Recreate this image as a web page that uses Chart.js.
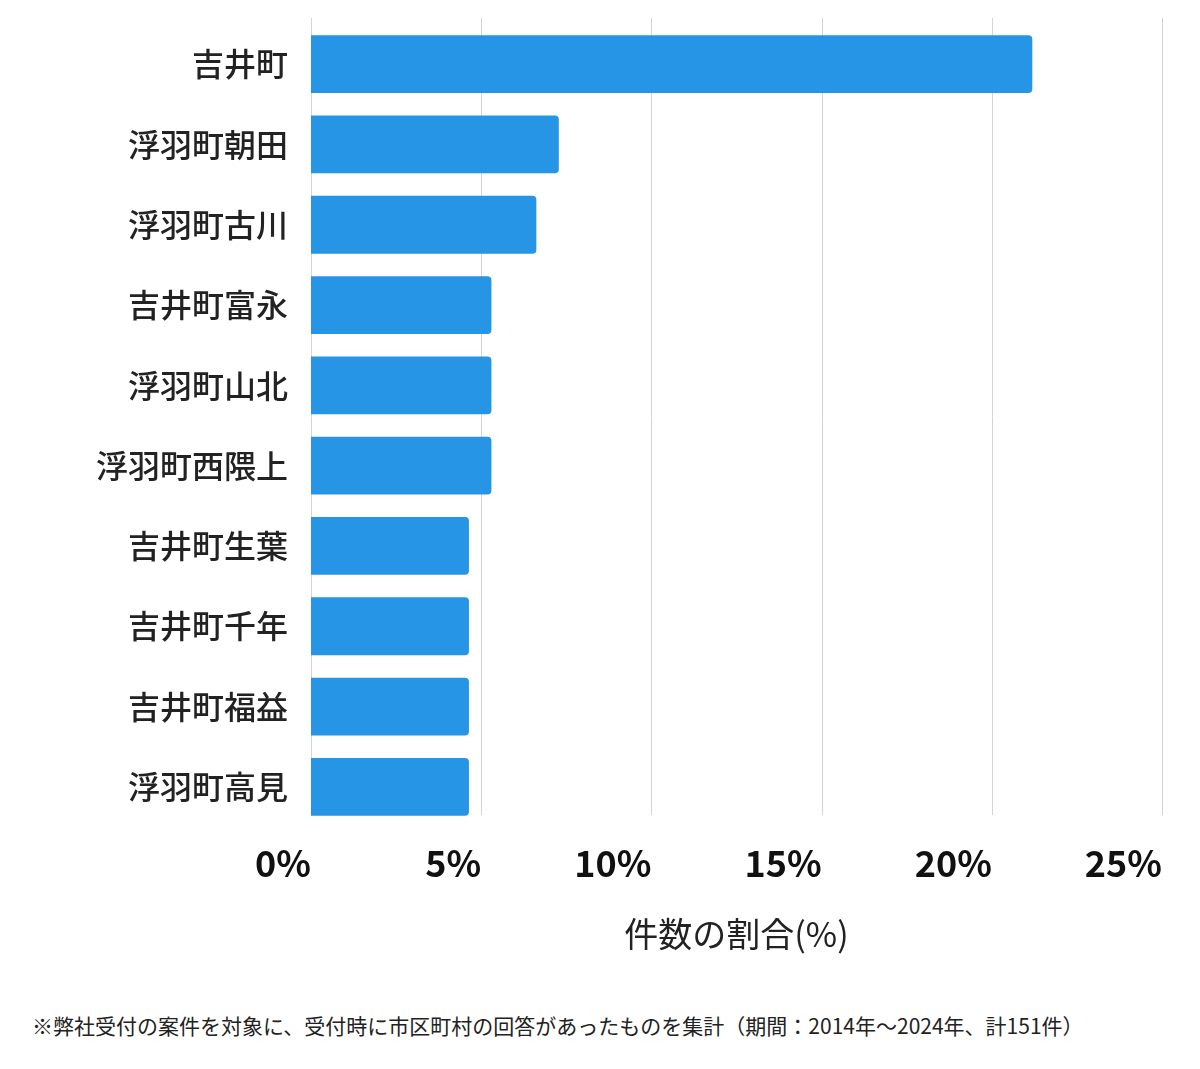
<!DOCTYPE html>
<html><head><meta charset="utf-8">
<script src="https://cdn.jsdelivr.net/npm/chart.js@4"></script>
<style>
html,body{margin:0;padding:0;background:#fff;}
#wrap{position:relative;width:1200px;height:1000px;}
#note{position:absolute;left:32px;top:1010px;font-family:"Noto Sans CJK JP","Noto Sans",sans-serif;font-size:21px;color:#222;white-space:nowrap;line-height:30px;}
</style></head>
<body>
<div id="wrap"><canvas id="c"></canvas></div>
<div id="note">※弊社受付の案件を対象に、受付時に市区町村の回答があったものを集計（期間：2014年～2024年、計151件）</div>
<script>
const categories = ["吉井町","浮羽町朝田","浮羽町古川","吉井町富永","浮羽町山北","浮羽町西隈上","吉井町生葉","吉井町千年","吉井町福益","浮羽町高見"];
const values = [21.19, 7.28, 6.62, 5.30, 5.30, 5.30, 4.64, 4.64, 4.64, 4.64];
const tickValues = [0, 5, 10, 15, 20, 25];
const axisTitle = "件数の割合(%)";
const FONT = '"Noto Sans CJK JP","Noto Sans",sans-serif';

const gridPlugin = {
  id: 'gridLines',
  beforeDatasetsDraw(chart) {
    const { ctx, chartArea, scales: { x } } = chart;
    ctx.save();
    ctx.strokeStyle = '#d4d4d4';
    ctx.lineWidth = 1;
    x.ticks.forEach(t => {
      const px = Math.round(x.getPixelForValue(t.value)) + 0.5;
      ctx.beginPath();
      ctx.moveTo(px, chartArea.top - 6);
      ctx.lineTo(px, chartArea.bottom - 12);
      ctx.stroke();
    });
    ctx.restore();
  }
};

new Chart(document.getElementById('c'), {
  type: 'bar',
  data: { labels: categories, datasets: [{ data: values, backgroundColor: '#2795e5', borderRadius: 4, borderSkipped: 'start' }] },
  options: {
    indexAxis: 'y',
    responsive: true, maintainAspectRatio: false, animation: false,
    layout: { padding: { top: 24, right: 38, left: 0, bottom: 0 } },
    plugins: { legend: { display: false }, tooltip: { enabled: false } },
    scales: {
      x: {
        min: 0, max: 25,
        afterBuildTicks: s => { s.ticks = tickValues.map(v => ({ value: v })); },
        afterFit: s => { s.height = 173; s.paddingLeft = 0; s.paddingRight = 0; },
        grid: { display: false, drawTicks: false },
        border: { display: false },
        ticks: { align: 'end', padding: 15, color: '#111', font: { family: FONT, size: 36, weight: 'bold' }, callback: v => v + '%' , maxRotation: 0},
        title: { display: true, text: axisTitle, color: '#222', font: { family: FONT, size: 34 }, padding: { top: 20, bottom: 46 } }
      },
      y: {
        afterFit: s => { s.width = 311; s.paddingTop = 0; s.paddingBottom = 0; },
        grid: { display: false, drawTicks: false },
        border: { display: false },
        ticks: { padding: 23, color: '#222', font: { family: FONT, size: 32, weight: 500 } }
      }
    }
  },
  plugins: [gridPlugin]
});
</script>
</body></html>
